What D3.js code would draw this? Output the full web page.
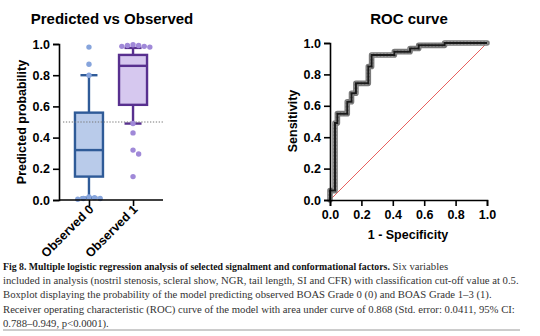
<!DOCTYPE html>
<html>
<head>
<meta charset="utf-8">
<script src="https://cdn.jsdelivr.net/npm/d3@7"></script>
<style>
  body { margin: 0; background: #fff; }
  svg { display: block; }
  .sans { font-family: "Liberation Sans", Arial, sans-serif; font-weight: bold; }
  .caption { font-family: "Liberation Serif", "Times New Roman", serif; }
</style>
</head>
<body>
<svg id="fig" width="540" height="336"></svg>
<script>
// Box plot: model probability per observed grade.
var groups = ['Observed 0', 'Observed 1'];
var whiskerLow = [0.015, 0.49];
var quartile1 = [0.15, 0.61];
var medians = [0.32, 0.86];
var quartile3 = [0.56, 0.93];
var whiskerHigh = [0.80, 0.975];
var pointsObserved0 = [0.98, 0.87, 0.80, 0.02, 0.015, 0.01, 0.01, 0.005];
var pointsObserved1 = [0.995, 0.99, 0.99, 0.985, 0.985, 0.98,
                       0.49, 0.43, 0.32, 0.295, 0.15];
var cutOff = 0.5;

// ROC curve, one entry per step corner.
var rocFpr = [0, 0, 0.032, 0.047, 0.11, 0.137, 0.165, 0.244, 0.265,
              0.41, 0.51, 0.565, 0.73, 1.0];
var rocTpr = [0, 0.06, 0.49, 0.55, 0.626, 0.68, 0.743, 0.85, 0.924,
              0.945, 0.965, 0.985, 1.0, 1.0];

var yTicks = [0, 0.2, 0.4, 0.6, 0.8, 1.0];
var xTicks = [0, 0.2, 0.4, 0.6, 0.8, 1.0];

var captionLines = [
  [{t: 'Fig 8.  Multiple logistic regression analysis of selected signalment and conformational factors.', b: true},
   {t: ' Six variables', b: false}],
  [{t: 'included in analysis (nostril stenosis, scleral show, NGR, tail length, SI and CFR) with classification cut-off value at 0.5.', b: false}],
  [{t: 'Boxplot displaying the probability of the model predicting observed BOAS Grade 0 (0) and BOAS Grade 1\u20133 (1).', b: false}],
  [{t: 'Receiver operating characteristic (ROC) curve of the model with area under curve of 0.868 (Std. error: 0.0411, 95% CI:', b: false}],
  [{t: '0.788\u20130.949, p<0.0001).', b: false}]
];

var boxColors = [
  {fill: '#b9cbea', stroke: '#2f5b98', dot: '#86a4dc'},
  {fill: '#d6c8ef', stroke: '#58308f', dot: '#a089d8'}
];

var svg = d3.select('#fig');


/**
 * Styles an axis group: thick black domain and ticks, bold labels.
 * @param {d3.Selection} g The axis group.
 */
function styleAxis(g) {
  g.select('.domain').attr('stroke', '#000').attr('stroke-width', 1.6);
  g.selectAll('.tick line').attr('stroke', '#000').attr('stroke-width', 1.6);
  g.selectAll('.tick text').attr('class', 'sans')
      .attr('font-size', 12.5).attr('fill', '#000');
  g.attr('font-family', null).attr('font-size', null);
}


/**
 * Spreads points with near equal values sideways so they do not overlap.
 * @param {Array<number>} values The point values.
 * @param {function(number): number} y The value scale.
 * @param {number} r Dot radius.
 * @return {Array<{v: number, dx: number}>} The placed points.
 */
function swarm(values, y, r) {
  var placed = [];
  values.slice().sort(d3.descending).forEach(function(v) {
    var py = y(v);
    for (var k = 0; k < 20; k++) {
      var dx = (k % 2 ? 1 : -1) * Math.ceil(k / 2) * (r * 2 + 0.2);
      var hit = placed.some(function(p) {
        var ex = p.dx - dx, ey = y(p.v) - py;
        return ex * ex + ey * ey < (2 * r) * (2 * r);
      });
      if (!hit) {
        placed.push({v: v, dx: dx});
        break;
      }
    }
  });
  return placed;
}


/** Draws the predicted vs observed box plot. */
function drawBoxPlot() {
  var x = d3.scalePoint().domain(groups).range([59, 163]).padding(0.68);
  var y = d3.scaleLinear().domain([0, 1]).range([200, 44]);
  var g = svg.append('g');
  var boxW = 28, capW = 17, r = 2.7;

  g.append('text').attr('class', 'sans').attr('font-size', 15)
      .attr('x', 112).attr('y', 24).attr('text-anchor', 'middle')
      .text('Predicted vs Observed');
  g.append('text').attr('class', 'sans').attr('font-size', 12.5)
      .attr('transform', 'translate(26,122) rotate(-90)')
      .attr('text-anchor', 'middle').text('Predicted probability');

  groups.forEach(function(name, i) {
    var cx = x(name), c = boxColors[i];
    var bg = g.append('g').attr('stroke', c.stroke)
        .attr('stroke-width', 2.4).attr('fill', 'none');
    bg.append('line').attr('x1', cx).attr('x2', cx)
        .attr('y1', y(whiskerLow[i])).attr('y2', y(quartile1[i]));
    bg.append('line').attr('x1', cx).attr('x2', cx)
        .attr('y1', y(quartile3[i])).attr('y2', y(whiskerHigh[i]));
    [whiskerLow[i], whiskerHigh[i]].forEach(function(v) {
      bg.append('line').attr('x1', cx - capW / 2).attr('x2', cx + capW / 2)
          .attr('y1', y(v)).attr('y2', y(v));
    });
    bg.append('rect').attr('x', cx - boxW / 2).attr('width', boxW)
        .attr('y', y(quartile3[i]))
        .attr('height', y(quartile1[i]) - y(quartile3[i]))
        .attr('fill', c.fill);
    bg.append('line').attr('x1', cx - boxW / 2).attr('x2', cx + boxW / 2)
        .attr('y1', y(medians[i])).attr('y2', y(medians[i]));
  });

  // Classification cut-off.
  g.append('line').attr('x1', 63).attr('x2', 163)
      .attr('y1', y(cutOff)).attr('y2', y(cutOff))
      .attr('stroke', '#777').attr('stroke-width', 1)
      .attr('stroke-dasharray', '1.3,1.6');

  [pointsObserved0, pointsObserved1].forEach(function(pts, i) {
    var cx = x(groups[i]);
    g.append('g').selectAll('circle').data(swarm(pts, y, r)).join('circle')
        .attr('cx', function(d) { return cx + d.dx; })
        .attr('cy', function(d) { return y(d.v); })
        .attr('r', r).attr('fill', boxColors[i].dot);
  });

  var ya = g.append('g').attr('transform', 'translate(59,0)')
      .call(d3.axisLeft(y).tickValues(yTicks).tickFormat(d3.format('.1f'))
          .tickSizeOuter(0).tickSize(6).tickPadding(3));
  styleAxis(ya);

  var xa = g.append('g').attr('transform', 'translate(0,200)')
      .call(d3.axisBottom(x).tickSizeOuter(0).tickSize(6));
  styleAxis(xa);
  xa.select('.domain').attr('d', 'M59,0H163');
  xa.selectAll('.tick text')
      .attr('text-anchor', 'end').attr('y', 0).attr('dy', 0)
      .attr('transform', 'translate(5,10) rotate(-45)');
}


/** Draws the ROC curve with the chance diagonal. */
function drawRoc() {
  var x = d3.scaleLinear().domain([0, 1]).range([330, 487]);
  var y = d3.scaleLinear().domain([0, 1]).range([200, 43]);
  var g = svg.append('g');

  g.append('text').attr('class', 'sans').attr('font-size', 15)
      .attr('x', 409).attr('y', 24).attr('text-anchor', 'middle')
      .text('ROC curve');
  g.append('text').attr('class', 'sans').attr('font-size', 12.5)
      .attr('transform', 'translate(297,121) rotate(-90)')
      .attr('text-anchor', 'middle').text('Sensitivity');
  g.append('text').attr('class', 'sans').attr('font-size', 12.5)
      .attr('x', 408).attr('y', 239).attr('text-anchor', 'middle')
      .text('1 - Specificity');

  g.append('line').attr('x1', x(0)).attr('y1', y(0))
      .attr('x2', x(1)).attr('y2', y(1))
      .attr('stroke', '#e8605f').attr('stroke-width', 1);

  var pts = d3.zip(rocFpr, rocTpr);
  var line = d3.line()
      .x(function(d) { return x(d[0]); })
      .y(function(d) { return y(d[1]); })
      .curve(d3.curveStepAfter);

  // Beaded outline for the markers, then the dark line through them.
  g.append('path').attr('d', line(pts)).attr('fill', 'none')
      .attr('stroke', '#7a7a7a').attr('stroke-width', 5.6)
      .attr('stroke-linecap', 'round').attr('stroke-linejoin', 'round');
  g.append('path').attr('d', line(pts)).attr('fill', 'none')
      .attr('stroke', '#a8a8a8').attr('stroke-width', 3.4)
      .attr('stroke-dasharray', '0,3.4').attr('stroke-linecap', 'round');
  g.append('path').attr('d', line(pts)).attr('fill', 'none')
      .attr('stroke', '#1a1a1a').attr('stroke-width', 2);

  var ya = g.append('g').attr('transform', 'translate(330,0)')
      .call(d3.axisLeft(y).tickValues(yTicks).tickFormat(d3.format('.1f'))
          .tickSizeOuter(0).tickSize(6).tickPadding(3));
  styleAxis(ya);
  var xa = g.append('g').attr('transform', 'translate(0,200)')
      .call(d3.axisBottom(x).tickValues(xTicks).tickFormat(d3.format('.1f'))
          .tickSizeOuter(0).tickSize(6).tickPadding(4));
  styleAxis(xa);
}


/** Draws the figure legend below both panels. */
function drawCaption() {
  var g = svg.append('g').attr('class', 'caption')
      .attr('font-size', 10.7).attr('fill', '#333');
  captionLines.forEach(function(parts, i) {
    var t = g.append('text').attr('x', 3).attr('y', 270 + i * 14.2);
    parts.forEach(function(p) {
      t.append('tspan').attr('font-weight', p.b ? 'bold' : 'normal')
          .attr('font-size', p.b ? 9.8 : null)
          .attr('fill', p.b ? '#111' : '#333').text(p.t);
    });
  });
  g.append('line').attr('x1', 3).attr('x2', 520)
      .attr('y1', 330).attr('y2', 330)
      .attr('stroke', '#999').attr('stroke-width', 1.2);
}

drawBoxPlot();
drawRoc();
drawCaption();
</script>
</body>
</html>
